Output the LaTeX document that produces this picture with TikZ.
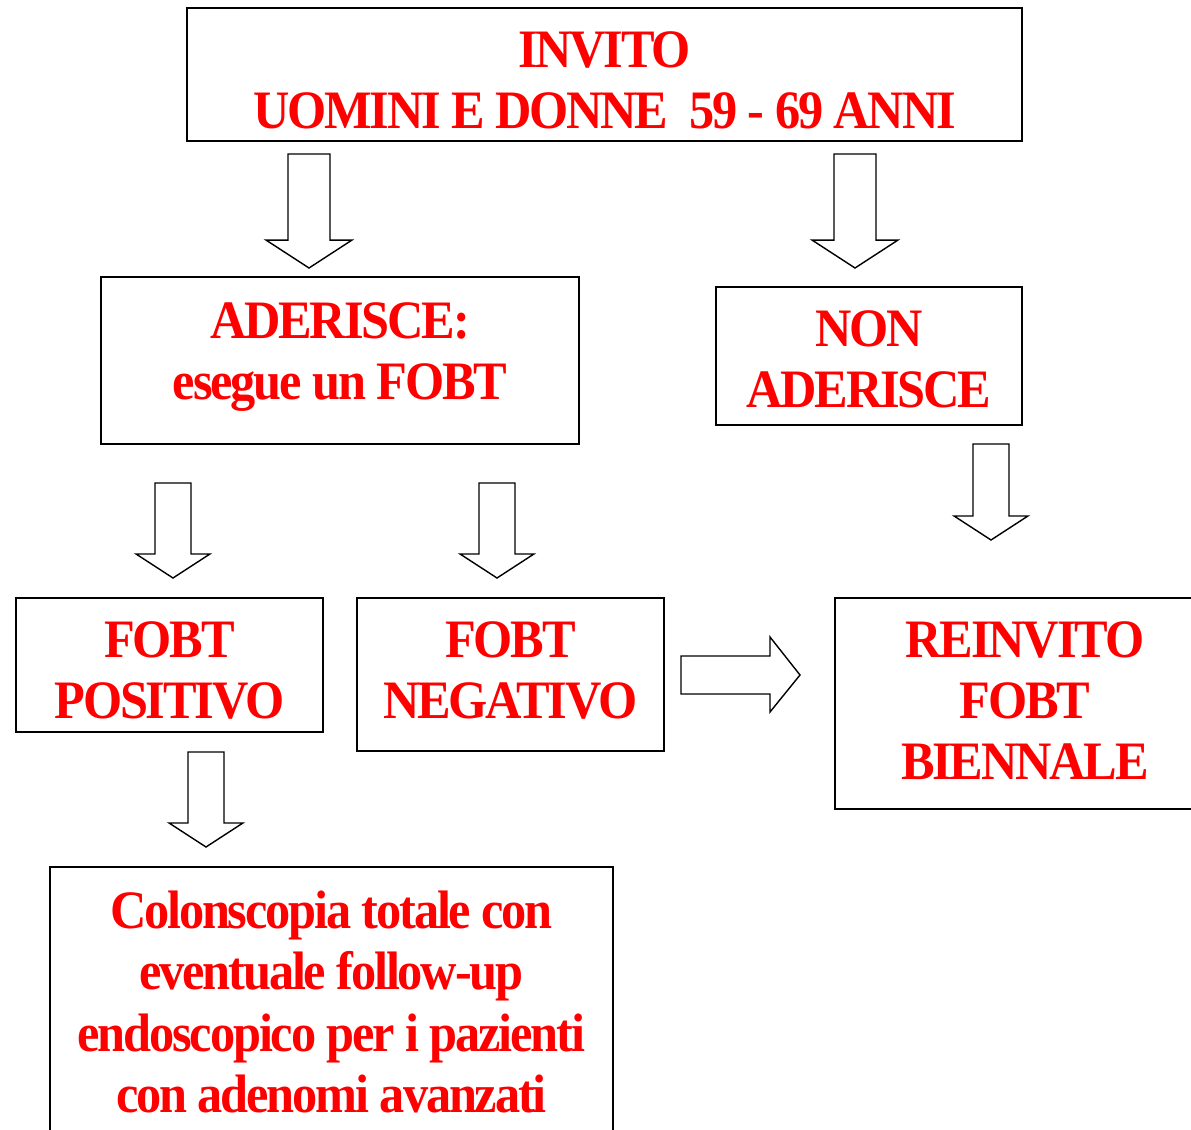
\documentclass[tikz,border=0pt]{standalone}
\usepackage{fontspec}
\setmainfont{Liberation Serif}
\newfontfamily\rossofont[FakeStretch=0.93,LetterSpace=-4]{Liberation Serif}
\usetikzlibrary{positioning}
\definecolor{rossoscritta}{RGB}{255,0,0}

\begin{document}
\begin{tikzpicture}[x=0.025cm,y=-0.025cm,
    box/.style={draw,line width=1.3pt},
    testo/.style={inner sep=0pt,align=center,text=rossoscritta,
        font=\rossofont\bfseries\fontsize{38.5}{43.5}\selectfont},
    freccia/.style={draw,line width=1pt,fill=white}]
            \useasboundingbox (0,0) rectangle (1191,1130);
            \clip (0,0) rectangle (1191,1130);

            % riquadri
            \node[box,minimum width=20.875cm,minimum height=3.325cm] (invito) at (604.5,74.5) {};
            \node[box,minimum width=11.95cm,minimum height=4.175cm] (aderisce) at (340,360.5) {};
            \node[box,minimum width=7.65cm,minimum height=3.45cm] (non) at (869,356) {};
            \node[box,minimum width=7.675cm,minimum height=3.35cm] (pos) at (169.5,665) {};
            \node[box,minimum width=7.675cm,minimum height=3.825cm] (neg) at (510.5,674.5) {};
            \node[box,minimum width=9.5cm,minimum height=5.275cm] (reinvito) at (1025,703.5) {};
            \node[box,minimum width=14.075cm,minimum height=7.075cm] (colon) at (331.5,1008.5) {};

            % testi
            \node[testo,below=0.6cm of invito.north] (tInvito) {INVITO\\UOMINI E DONNE\ \ 59 - 69 ANNI};
            \node[testo,below=0.65cm of aderisce.north] (tAderisce) {ADERISCE:\\esegue un FOBT};
            \node[testo,below=0.6cm of non.north] (tNon) {NON\\ADERISCE};
            \node[testo,below=0.6cm of pos.north] (tPos) {FOBT\\POSITIVO};
            \node[testo,below=0.6cm of neg.north] (tNeg) {FOBT\\NEGATIVO};
            \node[testo,below=0.6cm of reinvito.north] (tReinvito) {REINVITO\\FOBT\\BIENNALE};
            \node[testo,below=0.62cm of colon.north] (tColon) {Colonscopia totale con\\eventuale follow-up\\endoscopico per i pazienti\\con adenomi avanzati};

            % frecce
            \foreach \x/\a/\b/\s/\h in {309/154/268/21/43, 855/154/268/21/43,
                173/483/578/18/37, 497/483/578/18/37, 991/444/540/18/37, 206/752/847/18/37}
                \draw[freccia] (\x-\s,\a) -- (\x+\s,\a) -- (\x+\s,\b-0.65*\h) -- (\x+\h,\b-0.65*\h)
                    -- (\x,\b) -- (\x-\h,\b-0.65*\h) -- (\x-\s,\b-0.65*\h) -- cycle;
            \draw[freccia] (681,656) -- (770,656) -- (770,637) -- (800,675) -- (770,712)
                -- (770,694) -- (681,694) -- cycle;
        \end{tikzpicture}
\end{document}
